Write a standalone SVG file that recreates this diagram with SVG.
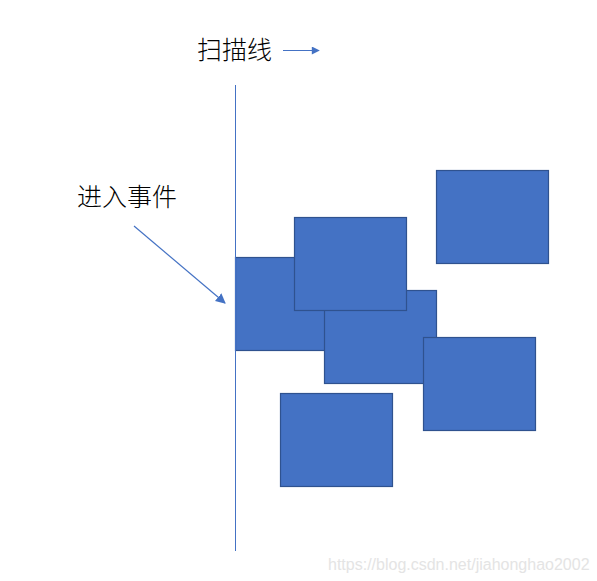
<svg xmlns="http://www.w3.org/2000/svg" width="597" height="581" viewBox="0 0 597 581">
<defs>
<style>
.box{fill:#4472C4;stroke:#2F528F;stroke-width:1.2}
.lbl{font-family:"Noto Sans CJK SC","Noto Sans CJK JP",sans-serif;font-size:25px;font-weight:300;fill:#000}
.conn{stroke:#4472C4;stroke-width:1.2;fill:none}
.wm{font-family:"Liberation Sans",Arial,sans-serif;font-size:16px;fill:#e4e4e4}
</style>
<marker id="ah" viewBox="0 0 10 10" refX="9" refY="5" markerWidth="9" markerHeight="8" markerUnits="userSpaceOnUse" orient="auto">
<path d="M0,0 L10,5 L0,10 z" fill="#4472C4"/>
</marker>
<marker id="ah2" viewBox="0 0 10 10" refX="9" refY="5" markerWidth="10" markerHeight="10" markerUnits="userSpaceOnUse" orient="auto">
<path d="M0,0 L10,5 L0,10 z" fill="#4472C4"/>
</marker>
</defs>
<rect width="597" height="581" fill="#ffffff"/>
<g id="rect-a"><rect class="box" x="235.5" y="257.5" width="112" height="93"/></g>
<g id="rect-c"><rect class="box" x="324.5" y="290.5" width="112" height="93"/></g>
<g id="rect-b"><rect class="box" x="294.5" y="217.5" width="112" height="93"/></g>
<g id="rect-d"><rect class="box" x="436.5" y="170.5" width="112" height="93"/></g>
<g id="rect-e"><rect class="box" x="423.5" y="337.5" width="112" height="93"/></g>
<g id="rect-f"><rect class="box" x="280.5" y="393.5" width="112" height="93"/></g>
<g id="connectors">
<line x1="235.5" y1="85" x2="235.5" y2="551" stroke="#4472C4" stroke-width="1"/>
<line class="conn" x1="283" y1="50.5" x2="319" y2="50.5" marker-end="url(#ah)"/>
<line class="conn" x1="134" y1="226" x2="225" y2="303" marker-end="url(#ah2)"/>
</g>
<g id="label-scan"><text class="lbl" x="197" y="59">扫描线</text></g>
<g id="label-enter"><text class="lbl" x="77" y="206">进入事件</text></g>
<text class="wm" x="328" y="570">https://blog.csdn.net/jiahonghao2002</text>
</svg>
